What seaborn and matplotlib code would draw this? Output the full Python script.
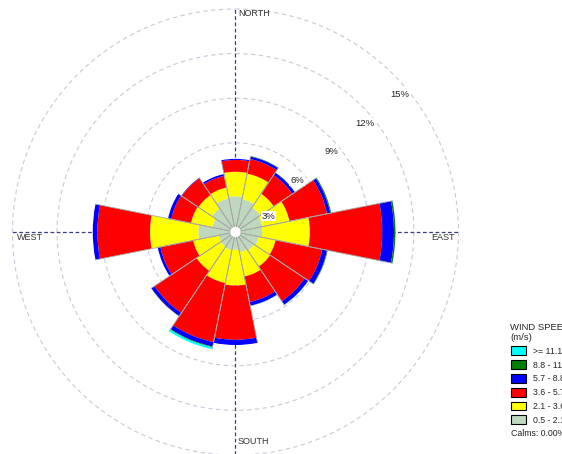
import numpy as np
import matplotlib
matplotlib.use('Agg')
import matplotlib.pyplot as plt
from matplotlib.patches import Patch
import seaborn as sns

sns.set_style('white')
plt.rcParams['font.family'] = ['Liberation Sans', 'DejaVu Sans']

directions = ['N', 'NNE', 'NE', 'ENE', 'E', 'ESE', 'SE', 'SSE',
              'S', 'SSW', 'SW', 'WSW', 'W', 'WNW', 'NW', 'NNW']
speed_bins = ['0.5 - 2.1', '2.1 - 3.6', '3.6 - 5.7', '5.7 - 8.8', '8.8 - 11.1', '>= 11.1']
bin_colors = ['#bfd7bf', '#ffff00', '#ff0000', '#0000ff', '#007f00', '#00ffff']

# frequency (%) per direction for each speed class
freq_05_21 = [2.40, 2.25, 2.00, 1.85, 1.80, 1.60, 1.50, 1.40,
              1.20, 1.25, 1.20, 1.15, 2.50, 1.60, 1.90, 2.30]
freq_21_36 = [1.65, 1.75, 1.10, 1.85, 3.20, 1.15, 1.30, 1.65,
              2.40, 2.25, 1.95, 1.75, 3.25, 1.45, 1.10, 0.75]
freq_36_57 = [0.80, 1.00, 1.50, 2.58, 4.87, 3.20, 2.80, 1.75,
              3.65, 4.05, 3.40, 2.25, 3.54, 1.35, 1.35, 0.80]
freq_57_88 = [0.07, 0.17, 0.20, 0.22, 0.79, 0.33, 0.28, 0.25,
              0.35, 0.30, 0.25, 0.18, 0.31, 0.22, 0.03, 0.12]
freq_88_111 = [0.00, 0.03, 0.02, 0.06, 0.10, 0.04, 0.02, 0.02,
               0.00, 0.05, 0.02, 0.00, 0.00, 0.00, 0.00, 0.00]
freq_111 = [0.00, 0.00, 0.00, 0.00, 0.00, 0.00, 0.00, 0.00,
            0.00, 0.13, 0.00, 0.00, 0.00, 0.00, 0.00, 0.00]
ring_values = [3, 6, 9, 12, 15]
calms = 0.0

freqs = [freq_05_21, freq_21_36, freq_36_57, freq_57_88, freq_88_111, freq_111]

fig = plt.figure(figsize=(5.62, 4.54), dpi=100, facecolor='white')
ax = fig.add_axes([0.01957, -0.0055, 0.7989, 0.98899], projection='polar')
ax.set_theta_zero_location('N')
ax.set_theta_direction(-1)

n = len(directions)
theta = np.arange(n) * 2 * np.pi / n
width = 2 * np.pi / n

bottom = np.zeros(n)
for vals, col in zip(freqs, bin_colors):
    vals = np.array(vals)
    ax.bar(theta, vals, width=width, bottom=bottom, color=col,
           edgecolor='none', linewidth=0, zorder=3)
    bottom += vals

# thin separators along petal sides
for t, tot in zip(theta, bottom):
    for side in (-width / 2, width / 2):
        ax.plot([t + side, t + side], [0, tot], color='#a5a5a5', lw=0.6, zorder=4)

# calm circle
circ = np.linspace(0, 2 * np.pi, 100)
ax.fill(circ, np.full(100, 0.3), color='white', zorder=5)

# cardinal dashed axes
for t in [0, np.pi / 2, np.pi, 3 * np.pi / 2]:
    ax.plot([t, t], [0, 15], color='#3b3b8f', lw=0.9, linestyle=(0, (3, 2)), zorder=2)

ax.set_ylim(0, 15.1)
ax.set_xticks([])
ax.set_yticks(ring_values)
ax.set_yticklabels([])
ax.yaxis.grid(True, color='#c9c9d9', linestyle=(0, (4, 3)), lw=0.8)
ax.set_axisbelow(True)
ax.spines['polar'].set_visible(False)

for v in ring_values:
    if v == 3:
        t, r = np.deg2rad(64), 2.45
    else:
        t, r = np.deg2rad(50), v - 0.6
    ax.text(t, r, f'{v}%', ha='center', va='center', fontsize=6.8, color='#222222',
            zorder=6, bbox=dict(facecolor='white', edgecolor='none', pad=0.6))

W, H = 562, 454
for txt, x, y in [('NORTH', 238, 14), ('WEST', 17, 238), ('EAST', 431, 238), ('SOUTH', 238, 441)]:
    fig.text(x / W, 1 - y / H, txt, ha='left', va='center', fontsize=6.5, color='#333333')

handles = [Patch(facecolor=c, edgecolor='black', linewidth=0.8) for c in bin_colors[::-1]]
leg = fig.legend(handles, speed_bins[::-1], loc='upper left',
                 bbox_to_anchor=(507 / W, 1 - 319 / H), frameon=False,
                 title='WIND SPEED\n(m/s)', fontsize=6.3, title_fontsize=6.8,
                 handlelength=1.8, handleheight=1.2, labelspacing=0.5,
                 handletextpad=0.8, alignment='left', borderaxespad=0)
fig.text(511 / W, 1 - 434 / H, f'Calms: {calms:.2f}%', ha='left', va='center',
         fontsize=6.3, color='#222222')

fig.savefig('out.png', dpi=100)
